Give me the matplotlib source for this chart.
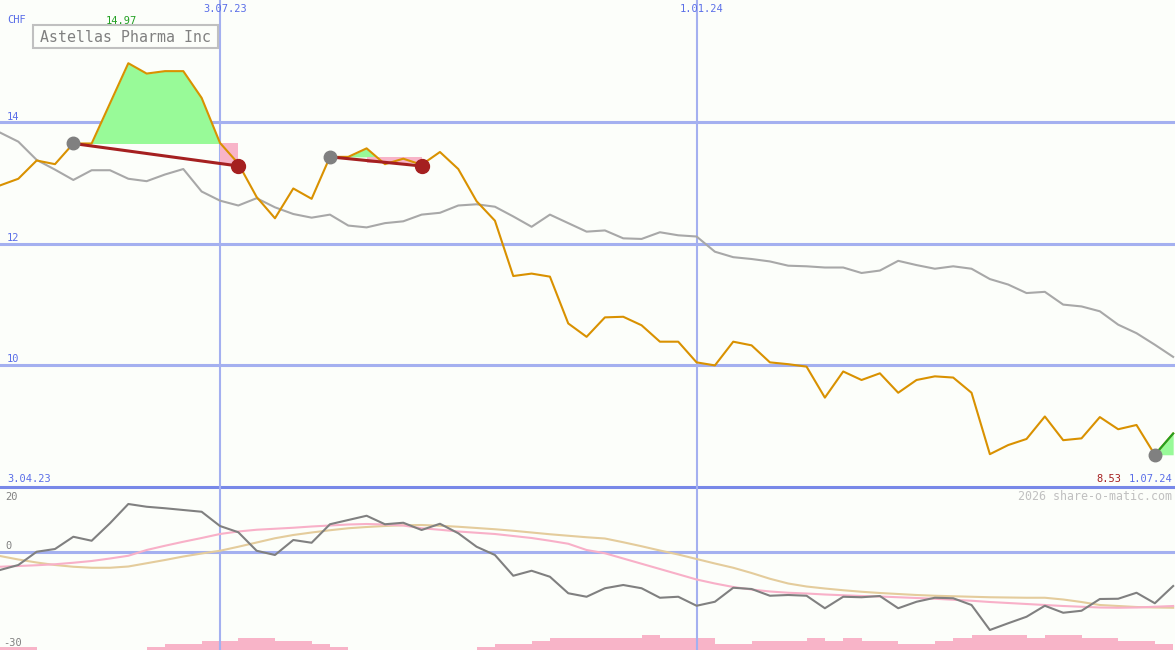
import numpy as np
import matplotlib.pyplot as plt
from matplotlib.patches import Rectangle

# weekly closes, CHF
price = [12.96, 13.07, 13.37, 13.31, 13.65, 13.65, 14.31, 14.97, 14.80, 14.84,
         14.84, 14.40, 13.66, 13.32, 12.77, 12.42, 12.91, 12.74, 13.43, 13.43,
         13.57, 13.31, 13.40, 13.30, 13.51, 13.23, 12.70, 12.38, 11.47, 11.51,
         11.46, 10.69, 10.47, 10.79, 10.80, 10.66, 10.39, 10.39, 10.05, 10.00,
         10.39, 10.33, 10.05, 10.02, 9.98, 9.47, 9.90, 9.76, 9.87, 9.55,
         9.76, 9.82, 9.80, 9.55, 8.54, 8.69, 8.79, 9.16, 8.77, 8.80,
         9.15, 8.95, 9.02, 8.53, 8.88]

# comparison index (rescaled)
bench = [13.83, 13.68, 13.38, 13.22, 13.05, 13.21, 13.21, 13.07, 13.03, 13.14,
         13.23, 12.86, 12.71, 12.63, 12.75, 12.60, 12.49, 12.43, 12.48, 12.30,
         12.27, 12.34, 12.37, 12.48, 12.51, 12.63, 12.65, 12.61, 12.45, 12.28,
         12.48, 12.34, 12.20, 12.22, 12.09, 12.08, 12.19, 12.14, 12.12, 11.87,
         11.78, 11.75, 11.71, 11.64, 11.63, 11.61, 11.61, 11.52, 11.56, 11.72,
         11.65, 11.59, 11.63, 11.59, 11.42, 11.33, 11.19, 11.21, 11.00, 10.97,
         10.89, 10.67, 10.53, 10.34, 10.14]

# oscillator and its two smoothed lines
osc = [-7.2, -5.2, 0.1, 1.2, 6.1, 4.5, 11.5, 19.2, 18.1, 17.5,
       16.8, 16.1, 10.4, 7.9, 0.5, -1.2, 4.8, 3.7, 11.1, 12.8,
       14.5, 11.1, 11.7, 8.8, 11.3, 7.5, 2.1, -1.2, -9.5, -7.5,
       -9.9, -16.5, -17.9, -14.5, -13.2, -14.5, -18.3, -17.9, -21.5, -19.9,
       -14.3, -14.8, -17.5, -17.2, -17.5, -22.5, -17.9, -18.1, -17.6, -22.5,
       -19.9, -18.3, -18.5, -21.2, -31.2, -28.5, -25.9, -21.5, -24.3, -23.5,
       -18.8, -18.7, -16.3, -20.5, -13.6]
osc_pink = [-5.9, -5.6, -5.3, -4.9, -4.3, -3.6, -2.6, -1.5, 0.8, 2.5,
            4.1, 5.6, 7.2, 8.2, 8.9, 9.3, 9.7, 10.2, 10.6, 11.0,
            11.2, 11.0, 10.6, 9.5, 8.9, 8.2, 7.7, 7.2, 6.4, 5.6,
            4.5, 3.3, 0.8, -0.5, -2.6, -4.7, -6.8, -8.9, -11.0, -12.6,
            -14.0, -15.0, -15.8, -16.3, -16.6, -17.0, -17.3, -17.6, -17.8, -18.1,
            -18.4, -18.7, -19.1, -19.5, -20.0, -20.4, -20.8, -21.2, -21.6, -21.9,
            -22.2, -22.3, -22.2, -21.9, -21.6]
osc_tan = [-1.6, -3.0, -4.2, -5.2, -5.9, -6.3, -6.3, -5.8, -4.5, -3.2,
           -1.8, -0.6, 0.5, 2.1, 3.8, 5.5, 6.8, 7.8, 8.7, 9.5,
           10.0, 10.4, 10.7, 10.8, 10.5, 10.1, 9.6, 9.1, 8.5, 7.8,
           7.1, 6.5, 5.9, 5.4, 3.9, 2.3, 0.6, -1.0, -2.8, -4.6,
           -6.3, -8.4, -10.7, -12.6, -13.8, -14.6, -15.3, -15.9, -16.4, -16.8,
           -17.2, -17.5, -17.7, -17.9, -18.1, -18.2, -18.3, -18.3, -19.0, -20.0,
           -21.2, -21.6, -22.0, -22.2, -22.3]

# volume level per week (64 bars)
volume = [1, 1, 0, 0, 0, 0, 0, 0, 1, 2, 2, 3, 3, 4, 4, 3, 3, 2, 1, 0,
          0, 0, 0, 0, 0, 0, 1, 2, 2, 3, 4, 4, 4, 4, 4, 5, 4, 4, 4, 2,
          2, 3, 3, 3, 4, 3, 4, 3, 3, 2, 2, 3, 4, 5, 5, 5, 4, 5, 5, 4,
          4, 3, 3, 2]

# trades: entry/exit week and price
trade_in = [4, 18]
trade_out = [13, 23]
trade_in_px = [13.65, 13.43]
trade_out_px = [13.28, 13.28]
loss_from = [12, 20]
loss_low = [13.30, 13.33]
last_buy = 63

date_labels = ["3.07.23", "1.01.24"]
date_idx = [12, 38]
price_ticks = [10, 12, 14]

BG = "#fcfefa"
GRID = "#a4b0f0"
BLUE = "#5a6ee8"
plt.rcParams['font.family'] = ['DejaVu Sans Mono']

W, H = 1175, 650
fig = plt.figure(figsize=(W / 100, H / 100), dpi=100, facecolor=BG)


def ftext(x, y, s, **kw):
    fig.text(x / W, 1 - y / H, s, va="center", **kw)


ax = fig.add_axes([0, 163 / H, 1, 487 / H], facecolor=BG)
axv = fig.add_axes([0, 0, 1, 163 / H], facecolor=BG)
ax2 = fig.add_axes([0, 0, 1, 163 / H], facecolor="none")
for a in (ax, axv, ax2):
    a.set_xlim(0, 64.1)
    a.axis("off")

x = np.arange(len(price))
p = np.array(price)

# upper panel
ax.set_ylim(8, 16.01)
for t in price_ticks:
    ax.axhline(t, color=GRID, lw=2.2, zorder=1)
ax.axhline(8, color="#7888e8", lw=2.2, zorder=1, clip_on=False)
for i in date_idx:
    ax.axvline(i, color=GRID, lw=1.5, zorder=1)

for k in range(len(trade_in)):
    a, b = trade_in[k], trade_out[k]
    seg = slice(a, b + 1)
    ax.fill_between(x[seg], p[seg], trade_in_px[k], where=p[seg] >= trade_in_px[k],
                    interpolate=True, color="#98fa98", lw=0, zorder=2)
    ax.fill_between([loss_from[k], b], trade_in_px[k], loss_low[k],
                    color="#f8b4c8", lw=0, zorder=2)

ax.fill_between(x[last_buy:], p[last_buy:], price[last_buy],
                color="#98fa98", lw=0, zorder=2)

ax.plot(x, bench, color="#a8a8a8", lw=1.5, zorder=3)
ax.plot(x, price, color="#d99100", lw=1.5, zorder=4)
ax.plot(x[last_buy:], p[last_buy:], color="#22a022", lw=1.5, zorder=5)

for k in range(len(trade_in)):
    ax.plot([trade_in[k], trade_out[k]], [trade_in_px[k], trade_out_px[k]],
            color="#a52020", lw=2.2, zorder=5)
    ax.plot(trade_in[k], trade_in_px[k], "o", color="#808080", ms=9, zorder=6)
    ax.plot(trade_out[k], trade_out_px[k], "o", color="#a52020", ms=10, zorder=6)
ax.plot(last_buy, price[last_buy], "o", color="#808080", ms=9, zorder=6)

# lower panel
axv.set_ylim(0, 163 / 3)
axv.bar(np.arange(len(volume)) + 0.5, volume, width=1.0, color="#f8b4c8", lw=0)

ax2.set_ylim(-39.2, 26)
ax2.axhline(0, color=GRID, lw=2.2, zorder=1)
for i in date_idx:
    ax2.axvline(i, color=GRID, lw=1.5, zorder=1)
ax2.plot(x, osc_tan, color="#e4cc9c", lw=1.5, zorder=2)
ax2.plot(x, osc_pink, color="#f8b0c8", lw=1.5, zorder=3)
ax2.plot(x, osc, color="#808080", lw=1.5, zorder=4)

# labels
ftext(7, 20, "CHF", color=BLUE, fontsize=7.5)
for t in price_ticks:
    ftext(7, 487 - (t - 8) * 60.75 - 6, str(t), color=BLUE, fontsize=7.5)
ftext(121, 21, "%.2f" % max(price), color="#22a022", fontsize=7.5, ha="center")
for s, i in zip(date_labels, date_idx):
    ftext(i * 18.33 + 5, 9, s, color=BLUE, fontsize=7.5, ha="center")
ftext(7, 479, "3.04.23", color=BLUE, fontsize=7.5)
ftext(1121, 479, "%.2f" % min(price), color="#a52020", fontsize=7.5, ha="right")
ftext(1172, 479, "1.07.24", color=BLUE, fontsize=7.5, ha="right")
ftext(1172, 496, "2026 share-o-matic.com", color="#c0c0c0", fontsize=8.4, ha="right")
ftext(5, 497, "20", color="#808080", fontsize=7.5)
ftext(5, 546, "0", color="#808080", fontsize=7.5)
ftext(3, 643, "-30", color="#808080", fontsize=7.5)

fig.patches.append(Rectangle((33 / W, 1 - 48 / H), 185 / W, 23 / H, transform=fig.transFigure,
                             fc=BG, ec="#c0c0c0", lw=1.5, zorder=10))
ftext(125, 37, "Astellas Pharma Inc", color="#808080", fontsize=10.7, ha="center", zorder=11)

fig.savefig("out.png", dpi=100, facecolor=BG)
